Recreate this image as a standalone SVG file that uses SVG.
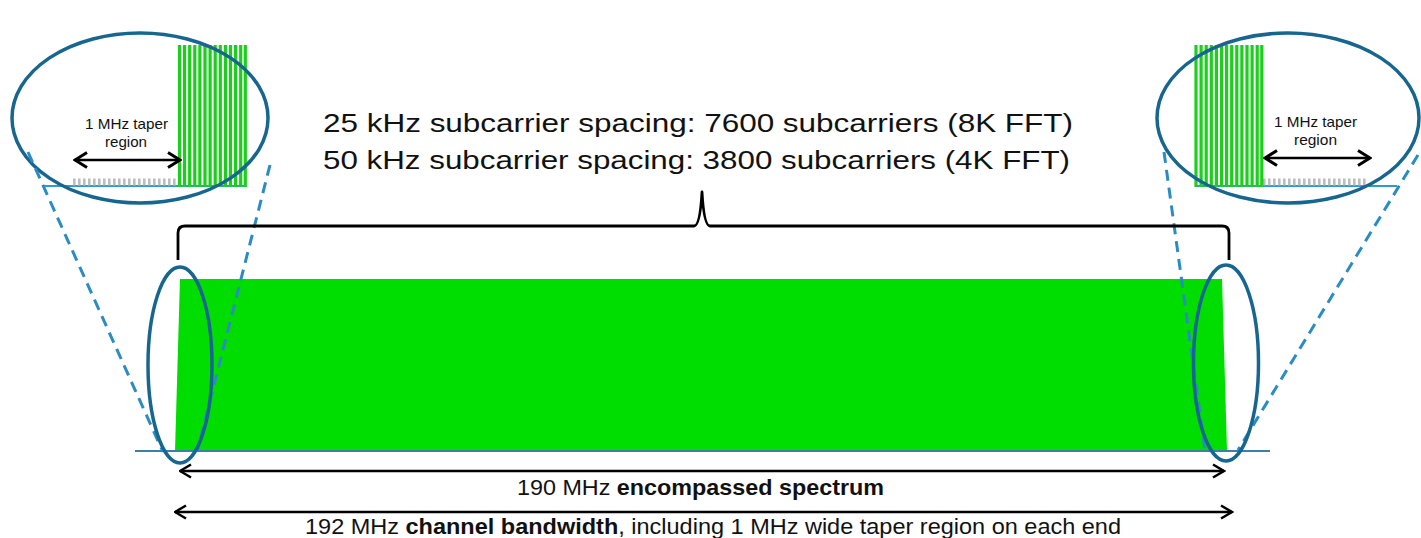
<svg xmlns="http://www.w3.org/2000/svg" width="1421" height="538" viewBox="0 0 1421 538">
<style>
.t{font-family:"Liberation Sans",Arial,sans-serif;fill:#111}
.ell{fill:none;stroke:#17668f;stroke-width:3.5}
.dash{fill:none;stroke:#2b8cc4;stroke-width:3;stroke-dasharray:11 7}
.arr{fill:none;stroke:#000;stroke-width:2.5}
.bars{fill:none;stroke:#1ccf1c;stroke-width:3.2}
.ticks{fill:none;stroke:#bdbdbd;stroke-width:7;stroke-dasharray:2.6 2.4}
.zbase{stroke:#3399cc;stroke-width:2}
.brace{fill:none;stroke:#000;stroke-width:2.8;stroke-linejoin:round}
</style>
<defs>
<marker id="ah" viewBox="0 0 14 16" refX="12.5" refY="8" markerWidth="14" markerHeight="16" markerUnits="userSpaceOnUse" orient="auto-start-reverse">
<path d="M1.5,1.5 L12.5,8 L1.5,14.5" fill="none" stroke="#000" stroke-width="2.5"/>
</marker>
<marker id="ahs" viewBox="0 0 16 18" refX="14" refY="9" markerWidth="16" markerHeight="18" markerUnits="userSpaceOnUse" orient="auto-start-reverse">
<path d="M2,1.5 L14,9 L2,16.5" fill="none" stroke="#000" stroke-width="3"/>
</marker>
</defs>

<g id="spectrum">
<path d="M180,279 L1222,279 L1227,451 L175,451 Z" fill="#00dd00"/>
<line x1="135" y1="451" x2="1270" y2="451" stroke="#3f7fa3" stroke-width="2"/>
</g>

<g id="zoom-left">
<line class="zbase" x1="43" y1="186" x2="246" y2="186"/>
<line class="ticks" x1="73" y1="182" x2="178" y2="182"/>
<path class="bars" d="M179.5,45V187 M184.6,45V187 M189.7,45V187 M194.8,45V187 M199.9,45V187 M205,45V187 M210.1,45V187 M215.2,45V187 M220.3,45V187 M225.4,45V187 M230.5,45V187 M235.6,45V187 M240.7,45V187 M245.3,45V187"/>
<line class="arr" x1="75" y1="160" x2="180" y2="160" marker-start="url(#ahs)" marker-end="url(#ahs)"/>
<text class="t" x="85" y="129" font-size="14.5" textLength="83" lengthAdjust="spacingAndGlyphs">1 MHz taper</text>
<text class="t" x="105" y="147" font-size="14.5" textLength="42" lengthAdjust="spacingAndGlyphs">region</text>
<ellipse class="ell" cx="140" cy="118" rx="128" ry="85"/>
</g>

<g id="zoom-right">
<line class="zbase" x1="1195" y1="186" x2="1397" y2="186"/>
<line class="ticks" x1="1263" y1="182" x2="1368" y2="182"/>
<path class="bars" d="M1196,45V187 M1201.1,45V187 M1206.2,45V187 M1211.3,45V187 M1216.4,45V187 M1221.5,45V187 M1226.6,45V187 M1231.7,45V187 M1236.8,45V187 M1241.9,45V187 M1247,45V187 M1252.1,45V187 M1257.2,45V187 M1261.8,45V187"/>
<line class="arr" x1="1265" y1="158" x2="1370" y2="158" marker-start="url(#ahs)" marker-end="url(#ahs)"/>
<text class="t" x="1274" y="127" font-size="14.5" textLength="83" lengthAdjust="spacingAndGlyphs">1 MHz taper</text>
<text class="t" x="1294" y="145" font-size="14.5" textLength="43" lengthAdjust="spacingAndGlyphs">region</text>
<ellipse class="ell" cx="1288" cy="118" rx="131" ry="85"/>
</g>

<g id="connectors">
<line class="dash" x1="28" y1="152" x2="163" y2="452"/>
<line class="dash" x1="270" y1="165" x2="197" y2="452"/>
<line class="dash" x1="1164" y1="152" x2="1205" y2="450"/>
<line class="dash" x1="1418" y1="155" x2="1238" y2="450"/>
</g>

<g id="focus-left">
<ellipse class="ell" cx="180" cy="365" rx="32" ry="98" stroke-width="3"/>
</g>
<g id="focus-right">
<ellipse class="ell" cx="1226" cy="363" rx="32.5" ry="98" stroke-width="3"/>
</g>

<g id="brace-label">
<path class="brace" d="M178,260 V233 Q178,226 185,226 H694 Q700,226 702,192 Q704,226 710,226 H1222 Q1229,226 1229,233 V260"/>
<text class="t" x="323" y="132" font-size="26.5" textLength="750" lengthAdjust="spacingAndGlyphs">25 kHz subcarrier spacing: 7600 subcarriers (8K FFT)</text>
<text class="t" x="323" y="169" font-size="26.5" textLength="747" lengthAdjust="spacingAndGlyphs">50 kHz subcarrier spacing: 3800 subcarriers (4K FFT)</text>
</g>

<g id="encompassed">
<line class="arr" x1="180" y1="471" x2="1224" y2="471" marker-start="url(#ah)" marker-end="url(#ah)"/>
<text class="t" x="517" y="495" font-size="22.5" textLength="367" lengthAdjust="spacingAndGlyphs">190 MHz <tspan font-weight="bold">encompassed spectrum</tspan></text>
</g>

<g id="channel">
<line class="arr" x1="175" y1="512" x2="1232" y2="512" marker-start="url(#ah)" marker-end="url(#ah)"/>
<text class="t" x="305" y="534" font-size="22.5" textLength="816" lengthAdjust="spacingAndGlyphs">192 MHz <tspan font-weight="bold">channel bandwidth</tspan>,  including 1 MHz wide taper region on each end</text>
</g>
</svg>
